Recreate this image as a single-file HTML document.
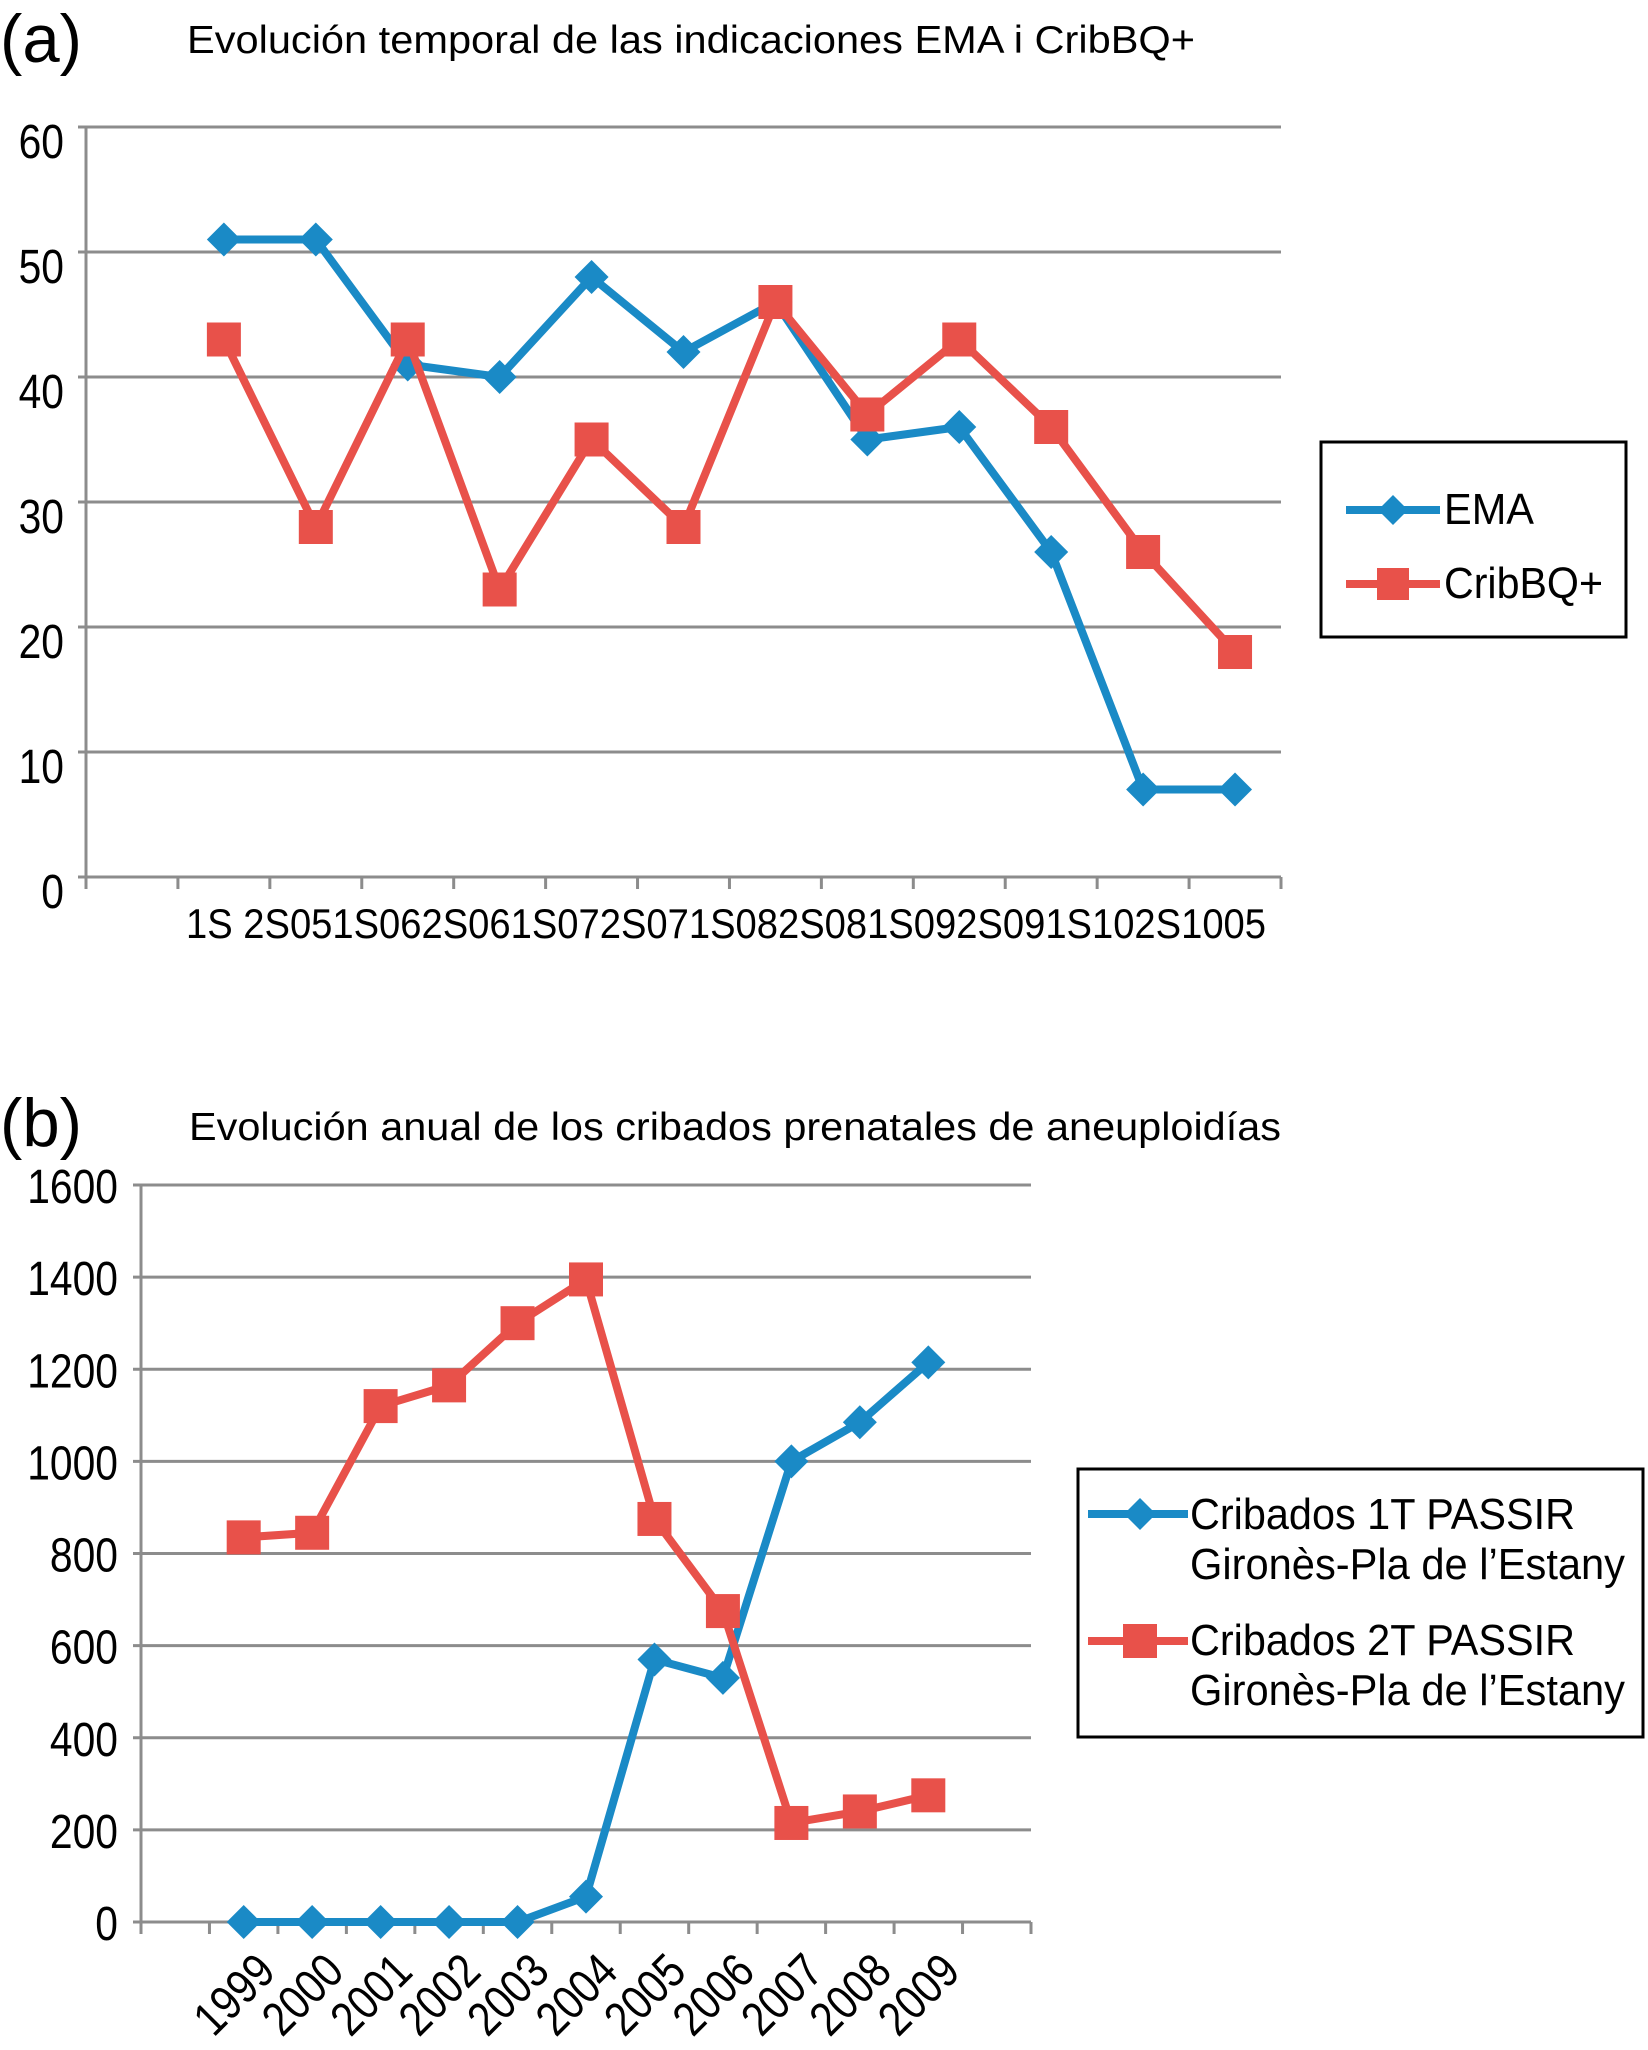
<!DOCTYPE html>
<html><head><meta charset="utf-8"><style>
html,body{margin:0;padding:0;background:#fff;}
svg{display:block;font-family:"Liberation Sans",sans-serif;}
</style></head><body>
<svg id="fig" width="1648" height="2050" viewBox="0 0 1648 2050">
<text x="0" y="62" font-size="68" textLength="82" lengthAdjust="spacingAndGlyphs">(a)</text>
<text x="187" y="53" font-size="39" textLength="1008" lengthAdjust="spacingAndGlyphs">Evolución temporal de las indicaciones EMA i CribBQ+</text>
<g id="chartA"></g>
<g>
<rect x="1321" y="442" width="305" height="195" fill="#fff" stroke="#000" stroke-width="3"/>
<g><line x1="1346" y1="510" x2="1440" y2="510" stroke="#1a8ac6" stroke-width="8"/><path d="M1393 495 L1408 510 L1393 525 L1378 510Z" fill="#1a8ac6"/><text x="1444" y="524" font-size="44" textLength="90" lengthAdjust="spacingAndGlyphs">EMA</text></g>
<g><line x1="1346" y1="584" x2="1440" y2="584" stroke="#e8514a" stroke-width="8"/><rect x="1377" y="568" width="32" height="32" fill="#e8514a"/><text x="1444" y="598" font-size="44" textLength="159" lengthAdjust="spacingAndGlyphs">CribBQ+</text></g>
</g>
<text x="0" y="1146" font-size="68" textLength="82" lengthAdjust="spacingAndGlyphs">(b)</text>
<text x="189" y="1140" font-size="39" textLength="1092" lengthAdjust="spacingAndGlyphs">Evolución anual de los cribados prenatales de aneuploidías</text>
<g id="chartB"></g>
<g>
<rect x="1078" y="1469" width="565" height="268" fill="#fff" stroke="#000" stroke-width="3"/>
<g><line x1="1088" y1="1514" x2="1188" y2="1514" stroke="#1a8ac6" stroke-width="8"/><path d="M1140 1498 L1156 1514 L1140 1530 L1124 1514Z" fill="#1a8ac6"/><text x="1190" y="1529" font-size="44" textLength="385" lengthAdjust="spacingAndGlyphs">Cribados 1T PASSIR</text><text x="1190" y="1579" font-size="44" textLength="435" lengthAdjust="spacingAndGlyphs">Gironès-Pla de l’Estany</text></g>
<g><line x1="1088" y1="1641" x2="1188" y2="1641" stroke="#e8514a" stroke-width="8"/><rect x="1123" y="1624" width="34" height="34" fill="#e8514a"/><text x="1190" y="1655" font-size="44" textLength="385" lengthAdjust="spacingAndGlyphs">Cribados 2T PASSIR</text><text x="1190" y="1705" font-size="44" textLength="435" lengthAdjust="spacingAndGlyphs">Gironès-Pla de l’Estany</text></g>
</g>
</svg>
<script>
const catsA = ["1S 05","2S 05","1S 06","2S 06","1S 07","2S 07","1S 08","2S 08","1S 09","2S 09","1S 10","2S 10"];
const emaVals = [51,51,41,40,48,42,46,35,36,26,7,7];
const cribVals = [43,28,43,23,35,28,46,37,43,36,26,18];
const ticksA = [0,10,20,30,40,50,60];
const catsB = ["1999","2000","2001","2002","2003","2004","2005","2006","2007","2008","2009"];
const t1Vals = [0,0,0,0,0,55,570,530,1000,1085,1215];
const t2Vals = [835,845,1120,1165,1300,1395,875,675,215,240,275];
const ticksB = [0,200,400,600,800,1000,1200,1400,1600];
const NS="http://www.w3.org/2000/svg";
function mk(p,tag,at){const e=document.createElementNS(NS,tag);for(const k in at)e.setAttribute(k,at[k]);p.appendChild(e);return e;}
function draw(g,o){
  const slots=o.cats.length+o.extra, sw=(o.x1-o.x0)/slots;
  const xs=i=>o.x0+(i+1.5)*sw;
  const ys=v=>o.y0-v/o.max*(o.y0-o.yt);
  o.ticks.forEach(t=>{
    const l=mk(g,'line',{x1:o.x0-8,x2:o.x1,y1:ys(t),y2:ys(t),stroke:'#8c8c8c','stroke-width':3});
    
    
    const tx=mk(g,'text',{'font-size':48,'text-anchor':'end',transform:`translate(${o.labX},${ys(t)+o.labDy}) scale(0.85,1)`});
    tx.textContent=t;
    
    
  });
  const ax=mk(g,'line',{x1:o.x0,x2:o.x0,y1:o.yt,y2:o.y0+10,stroke:'#8c8c8c','stroke-width':3});
  
  
  for(let i=0;i<=slots;i++){
    const tk=mk(g,'line',{x1:o.x0+i*sw,x2:o.x0+i*sw,y1:o.y0,y2:o.y0+12,stroke:'#8c8c8c','stroke-width':3});
    
    
  }
  o.labels(g,xs);
  o.series.forEach(s=>{
    const pl=mk(g,'polyline',{points:s.vals.map((v,i)=>xs(i)+','+ys(v)).join(' '),fill:'none',stroke:s.color,'stroke-width':8,'stroke-linejoin':'round'});
    
    
    s.vals.forEach((v,i)=>{
      const x=xs(i),y=ys(v);let m;
      if(s.shape==='d'){const r=17;m=mk(g,'path',{d:`M${x} ${y-r}L${x+r} ${y}L${x} ${y+r}L${x-r} ${y}Z`,fill:s.color});}
      else{const h=17;m=mk(g,'rect',{x:x-h,y:y-h,width:2*h,height:2*h,fill:s.color});}
      
      
    });
  });
}
draw(document.getElementById('chartA'),{x0:86,x1:1281,y0:877,yt:127,max:60,ticks:ticksA,cats:catsA,extra:1,labX:64,labDy:31,
  labels:(g,xs)=>{const t=mk(g,'text',{x:186,y:938,'font-size':42,textLength:1080,lengthAdjust:'spacingAndGlyphs'});
    t.textContent="1S 2S051S062S061S072S071S082S081S092S091S102S1005";
    
    },
  series:[{name:'ema',vals:emaVals,color:'#1a8ac6',shape:'d'},{name:'cribbq',vals:cribVals,color:'#e8514a',shape:'s'}]});
draw(document.getElementById('chartB'),{x0:141,x1:1031,y0:1922,yt:1185,max:1600,ticks:ticksB,cats:catsB,extra:2,labX:118,labDy:18,
  labels:(g,xs)=>{catsB.forEach((c,i)=>{const x=xs(i)+34,y=1974;
    const t=mk(g,'text',{'font-size':48,'text-anchor':'end',transform:`translate(${x},${y}) rotate(-45) scale(0.85,1)`});
    t.textContent=c;
    
    });},
  series:[{name:'cribados-1t',vals:t1Vals,color:'#1a8ac6',shape:'d'},{name:'cribados-2t',vals:t2Vals,color:'#e8514a',shape:'s'}]});
</script>
</body></html>
